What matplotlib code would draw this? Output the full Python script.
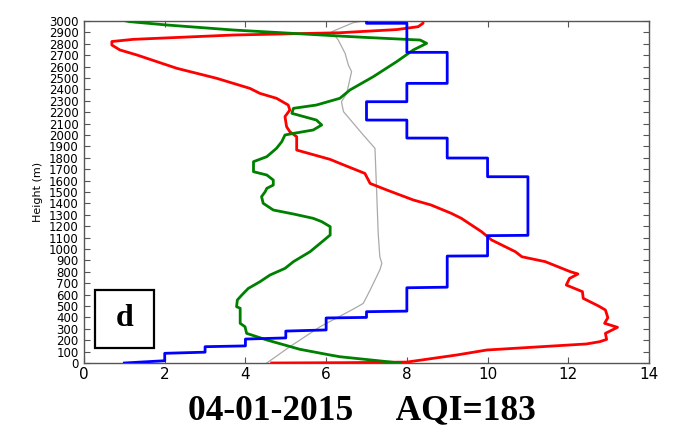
import matplotlib
matplotlib.use("Agg")
import matplotlib.pyplot as plt
from matplotlib.patches import Rectangle

# ---- data (value, height in m) ----
blue_x = [1, 2, 2, 3, 3, 4, 4, 5, 5, 6, 6, 7, 7, 8, 8, 9, 9, 10, 10, 11, 11, 10, 10, 9, 9, 8, 8, 7, 7, 8, 8, 9, 9, 8, 8, 7, 7]
blue_h = [0, 20, 85, 95, 143, 150, 210, 220, 280, 290, 395, 400, 450, 455, 660, 665, 938, 940, 1117, 1120, 1634, 1634, 1798, 1798, 1973, 1973, 2131, 2131, 2292, 2292, 2453, 2453, 2725, 2725, 2980, 2980, 3000]

red_x = [4.65, 6.5, 8.0, 9.23, 9.98, 12.45, 12.78, 12.95, 12.92, 13.22, 12.9, 12.98, 12.92, 12.75, 12.37,
         12.35, 11.95, 12.03, 12.24, 12.05, 11.43, 10.85, 10.69, 10.1, 9.85, 9.35, 9.1, 8.6, 8.16, 7.5,
         7.09, 6.96, 6.34, 6.1, 5.27, 5.27, 5.1, 5.02, 4.98, 5.1, 5.06, 4.77, 4.36, 4.11, 3.29, 2.3,
         1.31, 0.89, 0.69, 0.69, 1.22, 3.7, 6.34, 7.75, 8.28, 8.4, 8.4]
red_h = [0, 3, 8, 70, 114, 167, 187, 207, 260, 313, 348, 398, 465, 500, 567,
         626, 684, 742, 781, 801, 889, 932, 976, 1079, 1152, 1269, 1313, 1386, 1430, 1518,
         1575, 1663, 1751, 1786, 1868, 1985, 2029, 2073, 2161, 2219, 2263, 2322, 2365, 2409, 2497, 2585,
         2702, 2746, 2789, 2820, 2839, 2877, 2897, 2925, 2950, 2980, 3000]

green_x = [7.83, 6.34, 6.1, 5.35, 4.53, 4.03, 3.99, 3.87, 3.87, 3.78, 3.8, 3.91, 4.07, 4.36, 4.61, 4.98,
           5.19, 5.6, 5.85, 6.1, 6.1, 5.89, 5.68, 5.19, 4.69, 4.44, 4.40, 4.49, 4.53, 4.69, 4.69, 4.53,
           4.2, 4.2, 4.53, 4.77, 4.9, 4.98, 5.19, 5.68, 5.89, 5.76, 5.15, 5.19, 5.76, 6.34, 6.59, 7.17,
           7.75, 8.16, 8.49, 8.33, 6.92, 6.34, 3.7, 2.05, 1.14, 1.05]
green_h = [0, 55, 70, 120, 202, 260, 318, 348, 480, 494, 553, 596, 654, 713, 772, 830,
           889, 976, 1049, 1123, 1196, 1240, 1269, 1307, 1342, 1401, 1459, 1503, 1532, 1561, 1605, 1649,
           1678, 1766, 1810, 1883, 1941, 2000, 2014, 2044, 2088, 2131, 2190, 2234, 2263, 2322, 2395, 2512,
           2644, 2746, 2804, 2833, 2857, 2868, 2921, 2965, 2994, 3000]

gray_x = [4.53, 5.1, 5.85, 6.34, 6.71, 6.92, 7.09, 7.33, 7.38, 7.33, 7.29, 7.25, 7.21, 6.92, 6.43,
          6.38, 6.51, 6.63, 6.55, 6.47, 6.3, 6.14, 6.67, 6.9]
gray_h = [0, 143, 318, 410, 480, 523, 640, 816, 874, 932, 1137, 1518, 1883, 2000, 2205,
          2292, 2365, 2556, 2614, 2716, 2833, 2906, 2985, 3000]

x_ticks = [0, 2, 4, 6, 8, 10, 12, 14]
y_ticks = list(range(0, 3001, 100))
panel_label = "d"
bottom_title = "04-01-2015     AQI=183"
y_label = "Height (m)"

fig = plt.figure(figsize=(6.74, 4.40), dpi=100)
ax = fig.add_axes([84/674, 1 - 363/440, (649 - 84)/674, (363 - 21)/440])

ax.plot(gray_x, gray_h, color="#aaaaaa", lw=0.9, zorder=2)
ax.plot(red_x, red_h, color="red", lw=2.0, zorder=3)
ax.plot(green_x, green_h, color="green", lw=2.0, zorder=4)
ax.plot(blue_x, blue_h, color="blue", lw=2.0, zorder=5)

ax.set_xlim(0, 14)
ax.set_ylim(0, 3000)
ax.set_xticks(x_ticks)
ax.set_xticklabels([str(t) for t in x_ticks], fontsize=11)
ax.set_yticks(y_ticks)
ax.set_yticklabels([str(t) for t in y_ticks], fontsize=8.5)
ax.tick_params(direction="in", top=True, right=True, length=4, width=0.8,
               color="#555555", pad=3)
ax.tick_params(axis="y", pad=4)
for s in ax.spines.values():
    s.set_color("#555555")
    s.set_linewidth(1.0)
ax.set_ylabel(y_label, fontsize=8, labelpad=4)

# panel label box
ax.add_patch(Rectangle(((95 - 84)/565, (363 - 348)/342), 59/565, 58/342,
                       transform=ax.transAxes, fill=False, edgecolor="black",
                       lw=1.6, zorder=6))
ax.text((125 - 84)/565, (363 - 318)/342, panel_label, transform=ax.transAxes,
        ha="center", va="center", fontsize=23, fontweight="bold",
        family="Liberation Serif", zorder=7)

fig.text(0.537, 1 - 411/440, bottom_title, ha="center", va="center",
         fontsize=25.5, fontweight="bold", family="Liberation Serif")

fig.savefig("out.png", dpi=100)
